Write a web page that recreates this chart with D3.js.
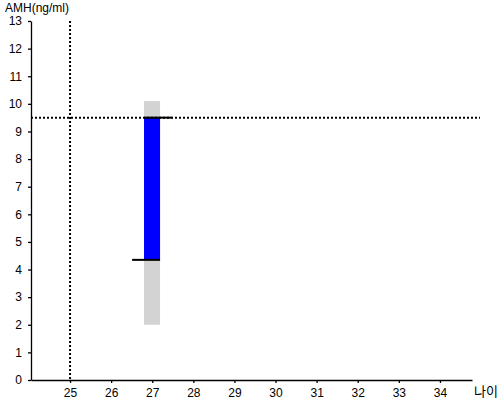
<!DOCTYPE html>
<html>
<head>
<meta charset="utf-8">
<script src="https://d3js.org/d3.v7.min.js"></script>
<style>
  body { margin: 0; background: #fff; }
  text { font-family: "Liberation Sans", Arial, sans-serif; }
</style>
</head>
<body>
<div id="chart"></div>
<script>
// data
var ages = [27];
var rangeLow = [2.0];      // grey band
var rangeHigh = [10.1];
var amhLow = [4.35];       // blue bar
var amhHigh = [9.5];
var refAge = 25;
var refAmh = 9.5;
var xTicks = [25, 26, 27, 28, 29, 30, 31, 32, 33, 34];
var yTicks = d3.range(0, 14);

var width = 500,
    height = 400;

var x = d3.scaleLinear().domain([24.05, 34.78]).range([31, 472]);
var y = d3.scaleLinear().domain([0, 13]).range([380, 21]);

var svg = d3.select("#chart").append("svg")
    .attr("width", width)
    .attr("height", height);

// axes
var xAxis = svg.append("g")
    .attr("transform", "translate(0,380)")
    .call(d3.axisBottom(x).tickValues(xTicks).tickSize(3).tickPadding(5).tickSizeOuter(0));
var yAxis = svg.append("g")
    .attr("transform", "translate(31,0)")
    .call(d3.axisLeft(y).tickValues(yTicks).tickSize(3).tickPadding(6).tickSizeOuter(0));

[xAxis, yAxis].forEach(function(a) {
  a.selectAll("text").style("font-size", "12px").attr("fill", "#000");
  a.selectAll("line, path").attr("stroke", "#000").attr("stroke-width", 1.3);
});

// grey range
svg.selectAll(".range")
    .data(ages)
  .enter().append("rect")
    .attr("class", "range")
    .attr("x", function(d) { return x(d - 0.2); })
    .attr("width", function(d) { return x(d + 0.19) - x(d - 0.2); })
    .attr("y", function(d, i) { return y(rangeHigh[i]); })
    .attr("height", function(d, i) { return y(rangeLow[i]) - y(rangeHigh[i]); })
    .attr("fill", "#d3d3d3");

// blue bar
svg.selectAll(".amh")
    .data(ages)
  .enter().append("rect")
    .attr("class", "amh")
    .attr("x", function(d) { return x(d - 0.2); })
    .attr("width", function(d) { return x(d + 0.19) - x(d - 0.2); })
    .attr("y", function(d, i) { return y(amhHigh[i]); })
    .attr("height", function(d, i) { return y(amhLow[i]) - y(amhHigh[i]); })
    .attr("fill", "#0000ff");

// reference lines
svg.append("line")
    .attr("x1", x.range()[0]).attr("x2", 480)
    .attr("y1", y(refAmh)).attr("y2", y(refAmh))
    .attr("stroke", "#000").attr("stroke-width", 2).attr("stroke-dasharray", "2,2");
svg.append("line")
    .attr("x1", x(refAge)).attr("x2", x(refAge))
    .attr("y1", y(13)).attr("y2", y(0))
    .attr("stroke", "#000").attr("stroke-width", 2).attr("stroke-dasharray", "2,2");

// end caps
ages.forEach(function(d, i) {
  svg.append("line")
      .attr("x1", x(d - 0.2)).attr("x2", x(d + 0.49))
      .attr("y1", y(amhHigh[i])).attr("y2", y(amhHigh[i]))
      .attr("stroke", "#000").attr("stroke-width", 2);
  svg.append("line")
      .attr("x1", x(d - 0.49)).attr("x2", x(d + 0.19))
      .attr("y1", y(amhLow[i])).attr("y2", y(amhLow[i]))
      .attr("stroke", "#000").attr("stroke-width", 2);
});

// axis labels
svg.append("text")
    .attr("x", 5).attr("y", 12)
    .style("font-size", "12px")
    .text("AMH(ng/ml)");
svg.append("text")
    .attr("x", 474).attr("y", 396)
    .style("font-family", "'Noto Sans CJK KR', sans-serif")
    .style("font-size", "13px")
    .text("나이");
</script>
</body>
</html>
